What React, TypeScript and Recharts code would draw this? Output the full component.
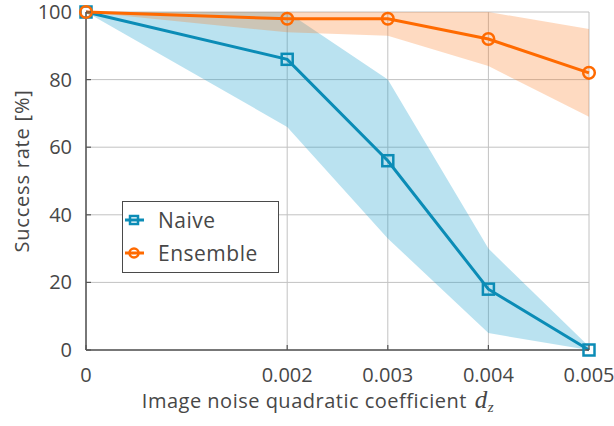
import React from 'react';
import {
  ComposedChart, Area, Line, XAxis, YAxis, CartesianGrid, Legend, Label,
} from 'recharts';

// x values (image noise quadratic coefficient)
const noiseCoef = [0, 0.002, 0.003, 0.004, 0.005];
// success rates [%]
const naiveRate = [100, 86, 56, 18, 0];
const naiveLow = [100, 66, 33, 5, 0];
const naiveHigh = [100, 100, 80, 30, 1];
const ensembleRate = [100, 98, 98, 92, 82];
const ensembleLow = [100, 94, 93, 84, 69];
const ensembleHigh = [100, 100, 100, 100, 95];

const xTicks = [0, 0.002, 0.003, 0.004, 0.005];
const yTicks = [0, 20, 40, 60, 80, 100];
const seriesNames = ['Naive', 'Ensemble'];

const BLUE = '#0b8cb6';
const ORANGE = '#ff6a00';
const TEXT = '#474747';
const AXIS = '#555555';
const FONT = '"Open Sans", sans-serif';

const data = noiseCoef.map((x, i) => ({
  x,
  naive: naiveRate[i],
  naiveBand: [naiveLow[i], naiveHigh[i]],
  ensemble: ensembleRate[i],
  ensembleBand: [ensembleLow[i], ensembleHigh[i]],
}));

const fmtX = (v: number) => (v === 0 ? '0' : v.toFixed(3));

// ticks point inward like MATLAB, labels sit outside
const BottomTick = (props: any) => {
  const { x, y, payload } = props;
  return (
    <g>
      <line x1={x} x2={x} y1={y - 32} y2={y - 37} stroke={AXIS} strokeWidth={1.2} />
      <text x={x} y={y} textAnchor="middle" fill={TEXT} fontSize={20} fontFamily={FONT}>
        {fmtX(payload.value)}
      </text>
    </g>
  );
};

const LeftTick = (props: any) => {
  const { x, y, payload } = props;
  return (
    <g>
      <line x1={x + 14} x2={x + 19} y1={y} y2={y} stroke={AXIS} strokeWidth={1.2} />
      <text x={x} y={y + 7} textAnchor="end" fill={TEXT} fontSize={20} fontFamily={FONT}>
        {payload.value}
      </text>
    </g>
  );
};

const TopTick = (props: any) => {
  const { x, y } = props;
  return <line x1={x} x2={x} y1={y} y2={y + 5} stroke={AXIS} strokeWidth={1.2} />;
};

const RightTick = (props: any) => {
  const { x, y } = props;
  return <line x1={x} x2={x - 5} y1={y} y2={y} stroke={AXIS} strokeWidth={1.2} />;
};

const SquareDot = (props: any) => {
  const { cx, cy, index } = props;
  return (
    <rect key={`sq-${index}`} x={cx - 5.5} y={cy - 5.5} width={11} height={11}
      fill="none" stroke={BLUE} strokeWidth={2.5} />
  );
};

const CircleDot = (props: any) => {
  const { cx, cy, index } = props;
  return (
    <circle key={`ci-${index}`} cx={cx} cy={cy} r={5.8}
      fill="none" stroke={ORANGE} strokeWidth={2.5} />
  );
};

const LegendBox = () => (
  <div style={{
    width: 157, height: 72, boxSizing: 'border-box', border: `1.5px solid #4a4a4a`,
    background: '#fff', position: 'relative', fontFamily: FONT, fontSize: 21, color: TEXT,
    letterSpacing: 0.5,
  }}>
    {seriesNames.map((name, i) => {
      const color = i === 0 ? BLUE : ORANGE;
      return (
        <div key={name} style={{
          position: 'absolute', left: 0, top: i === 0 ? 5 : 38, height: 26,
          display: 'flex', alignItems: 'center', lineHeight: '26px',
        }}>
          <svg width={35} height={26} style={{ display: 'block' }}>
            <line x1={2} x2={21} y1={13} y2={13} stroke={color} strokeWidth={3} />
            {i === 0
              ? <rect x={7} y={9} width={8} height={8} fill="none" stroke={color} strokeWidth={2.5} />
              : <circle cx={11} cy={13} r={4.5} fill="none" stroke={color} strokeWidth={2.5} />}
          </svg>
          <span>{name}</span>
        </div>
      );
    })}
  </div>
);

export default function App() {
  return (
    <div style={{ position: 'absolute', left: 0, top: 0, width: 614, height: 426, background: '#fff' }}>
      <ComposedChart
        width={614}
        height={426}
        data={data}
        margin={{ top: 12, right: 25, left: 26, bottom: 16 }}
        style={{ fontFamily: FONT }}
      >
        <CartesianGrid stroke="#c2c2c2" strokeWidth={1} />
        <XAxis
          dataKey="x"
          type="number"
          domain={[0, 0.005]}
          ticks={xTicks}
          height={60}
          axisLine={{ stroke: AXIS, strokeWidth: 1.5 }}
          tickLine={false}
          tickSize={0}
          tickMargin={32}
          tick={BottomTick}
          interval={0}
        >
          <Label
            content={() => (
              <text x={318} y={408} textAnchor="middle" fill={TEXT} fontSize={20}
                fontFamily={FONT} letterSpacing={0.5}>
                Image noise quadratic coefficient
                <tspan dx={8} fontFamily='"Liberation Serif", serif' fontStyle="italic" fontSize={25}>d</tspan>
                <tspan dy={4} fontFamily='"Liberation Serif", serif' fontStyle="italic" fontSize={15}>z</tspan>
              </text>
            )}
          />
        </XAxis>
        <XAxis
          xAxisId="top"
          orientation="top"
          type="number"
          domain={[0, 0.005]}
          ticks={xTicks}
          height={0}
          axisLine={{ stroke: AXIS, strokeWidth: 1.5 }}
          tickLine={false}
          tickSize={0}
          tickMargin={0}
          tick={TopTick}
          interval={0}
        />
        <YAxis
          type="number"
          domain={[0, 100]}
          ticks={yTicks}
          width={60}
          axisLine={{ stroke: AXIS, strokeWidth: 1.5 }}
          tickLine={false}
          tickSize={0}
          tickMargin={14}
          tick={LeftTick}
          interval={0}
        >
          <Label
            content={() => (
              <text x={29} y={171} transform="rotate(-90, 29, 171)" textAnchor="middle"
                fill={TEXT} fontSize={20} fontFamily={FONT} letterSpacing={0.8}>
                Success rate [%]
              </text>
            )}
          />
        </YAxis>
        <YAxis
          yAxisId="right"
          orientation="right"
          type="number"
          domain={[0, 100]}
          ticks={yTicks}
          width={0}
          axisLine={{ stroke: AXIS, strokeWidth: 1.5 }}
          tickLine={false}
          tickSize={0}
          tickMargin={0}
          tick={RightTick}
          interval={0}
        />

        <Area
          dataKey="naiveBand"
          type="linear"
          stroke="none"
          fill="#1aa0cc"
          fillOpacity={0.3}
          legendType="none"
          activeDot={false}
          isAnimationActive={false}
        />
        <Area
          dataKey="ensembleBand"
          type="linear"
          stroke="none"
          fill="#fb7a20"
          fillOpacity={0.28}
          legendType="none"
          activeDot={false}
          isAnimationActive={false}
        />
        <Line
          dataKey="naive"
          name="Naive"
          type="linear"
          stroke={BLUE}
          strokeWidth={3}
          dot={SquareDot}
          activeDot={false}
          isAnimationActive={false}
        />
        <Line
          dataKey="ensemble"
          name="Ensemble"
          type="linear"
          stroke={ORANGE}
          strokeWidth={3}
          dot={CircleDot}
          activeDot={false}
          isAnimationActive={false}
        />
        <Legend
          layout="horizontal"
          verticalAlign="middle"
          align="center"
          wrapperStyle={{ left: 122, top: 201, width: 157, height: 72 }}
          content={() => <LegendBox />}
        />
      </ComposedChart>
    </div>
  );
}
